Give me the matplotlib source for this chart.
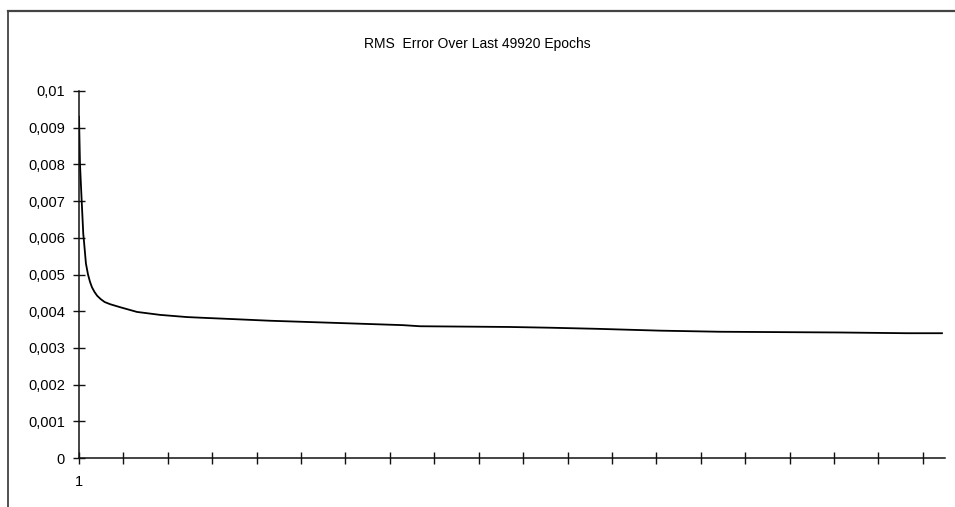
import matplotlib
matplotlib.use("Agg")
import matplotlib.pyplot as plt
from matplotlib.lines import Line2D
from matplotlib import font_manager

# ---- data ----
epochs = [1, 58, 156, 248, 289, 400, 520, 635, 750, 900, 1050, 1250, 1480,
          1800, 2365, 3344, 4670, 6226, 7148, 9108, 11010, 14872, 18676,
          19656, 24844, 27150, 29859, 33490, 36949, 40407, 43866, 47728, 49745]
rms = [0.0093, 0.0080, 0.0070, 0.0061, 0.0059, 0.0053, 0.0050, 0.0048,
       0.00465, 0.00452, 0.00442, 0.00433, 0.00425, 0.00419, 0.00411,
       0.00398, 0.0039, 0.00384, 0.00382, 0.00378, 0.00374, 0.00368,
       0.00362, 0.00359, 0.00357, 0.00355, 0.00352, 0.00347, 0.00344,
       0.00343, 0.00342, 0.0034, 0.0034]
total_epochs = 49920
x_tick_step = 2560
y_ticks = [0, 0.001, 0.002, 0.003, 0.004, 0.005, 0.006, 0.007, 0.008, 0.009, 0.01]
y_tick_labels = ["0", "0,001", "0,002", "0,003", "0,004", "0,005", "0,006",
                 "0,007", "0,008", "0,009", "0,01"]
title = "RMS  Error Over Last 49920 Epochs"

names = {f.name for f in font_manager.fontManager.ttflist}
fam = "Liberation Sans Narrow" if "Liberation Sans Narrow" in names else "Liberation Sans"
plt.rcParams["font.family"] = [fam, "DejaVu Sans"]

W, H = 955, 507
fig = plt.figure(figsize=(W / 100, H / 100), dpi=100)
ax = fig.add_axes([79 / W, (H - 458) / H, (945 - 79) / W, (458 - 91) / H])

ax.plot(epochs, rms, color="black", lw=1.3)

ax.set_xlim(1, total_epochs)
ax.set_ylim(0, 0.01)
xt = list(range(1, total_epochs, x_tick_step))
ax.set_xticks(xt)
ax.set_xticklabels(["1"] + [""] * (len(xt) - 1))
ax.set_yticks(y_ticks)
ax.set_yticklabels(y_tick_labels)

for s in ["top", "right"]:
    ax.spines[s].set_visible(False)
for s in ["left", "bottom"]:
    ax.spines[s].set_linewidth(1.1)
    ax.spines[s].set_color("#111111")
ax.tick_params(axis="both", direction="inout", length=8, width=1.0,
               colors="#111111", labelsize=10.5, labelcolor="black")
ax.tick_params(axis="y", pad=6)
ax.tick_params(axis="x", pad=8)

fig.text(477 / W, 1 - 44 / H, title, ha="center", va="center", fontsize=10)

# outer frame lines
fig.add_artist(Line2D([8 / W, 8 / W], [0, 1 - 11 / H], color="#333333", lw=1.2,
                      transform=fig.transFigure))
fig.add_artist(Line2D([8 / W, 1], [1 - 11 / H, 1 - 11 / H], color="#444444", lw=1.6,
                      transform=fig.transFigure))

fig.savefig("out.png", dpi=100)
